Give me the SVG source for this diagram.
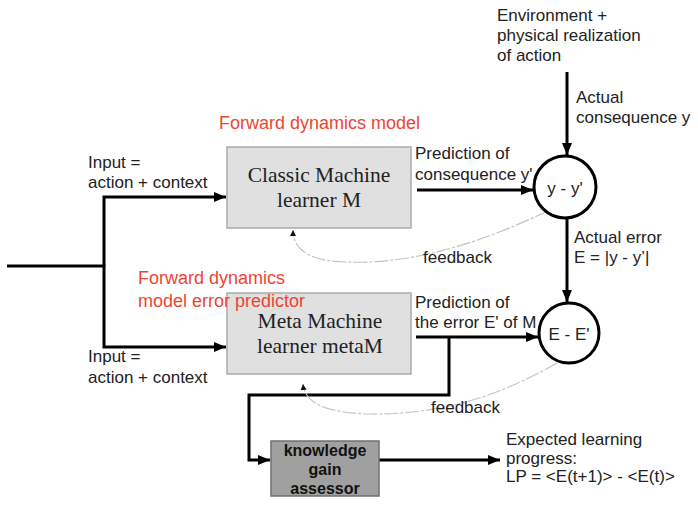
<svg xmlns="http://www.w3.org/2000/svg" width="698" height="508" viewBox="0 0 698 508">
<style>
.lbl{font-family:"Liberation Sans",Arial,sans-serif;font-size:17px;fill:#222}
.red{font-family:"Liberation Sans",Arial,sans-serif;font-size:18px;fill:#ee4433}
.ser{font-family:"Liberation Serif","Times New Roman",serif;font-size:21.5px;fill:#222;text-anchor:middle}
.bold{font-family:"Liberation Sans",Arial,sans-serif;font-size:16px;font-weight:bold;fill:#111;text-anchor:middle}
.ctr{font-family:"Liberation Sans",Arial,sans-serif;font-size:17px;fill:#222;text-anchor:middle}
.wire{fill:none;stroke:#000;stroke-width:3;stroke-linejoin:miter}
.fb{fill:none;stroke:#c4c4c4;stroke-width:1.2;stroke-dasharray:14 2 3 2}
.box{fill:#e0e0e0;stroke:#aaaaaa;stroke-width:1.5}
.kbox{fill:#a0a0a0;stroke:#707070;stroke-width:1.5}
.circ{fill:#fff;stroke:#000;stroke-width:3}
</style>
<defs>
<marker id="ah" markerUnits="userSpaceOnUse" markerWidth="12" markerHeight="10" refX="12" refY="5" orient="auto">
<path d="M0,0 L12,5 L0,10 z" fill="#000"/>
</marker>
<marker id="fah" markerUnits="userSpaceOnUse" markerWidth="6" markerHeight="6" refX="6" refY="3" orient="auto">
<path d="M0,0 L6,3 L0,6 z" fill="#111"/>
</marker>
</defs>

<g id="connectors">
<path class="wire" d="M104,266 V197 H226" marker-end="url(#ah)"/>
<path class="wire" d="M7,266 H104 V347 H226" marker-end="url(#ah)"/>
<path class="wire" d="M417,190 H533" marker-end="url(#ah)"/>
<path class="wire" d="M567,72 V155" marker-end="url(#ah)"/>
<path class="wire" d="M567,218 V302" marker-end="url(#ah)"/>
<path class="wire" d="M416,337 H538" marker-end="url(#ah)"/>
<path class="wire" d="M449,337 V395 H249 V460 H270" marker-end="url(#ah)"/>
<path class="wire" d="M379,460 H500" marker-end="url(#ah)"/>
<path class="fb" d="M548,211 C490,238 420,265 345,262 C310,261 293,250 293,230" marker-end="url(#fah)"/>
<path class="fb" d="M557,363 C510,390 450,415 370,414 C330,413 305,405 303,384" marker-end="url(#fah)"/>
</g>

<g id="M">
<rect class="box" x="227" y="147" width="184" height="81"/>
<text class="ser" x="319" y="182">Classic Machine</text>
<text class="ser" x="319" y="207">learner M</text>
</g>

<g id="metaM">
<rect class="box" x="227" y="293" width="184" height="81"/>
<text class="ser" x="320" y="328">Meta Machine</text>
<text class="ser" x="320" y="353">learner metaM</text>
</g>

<g id="kga">
<rect class="kbox" x="271" y="441" width="108" height="55"/>
<text class="bold" x="325" y="456">knowledge</text>
<text class="bold" x="325" y="475">gain</text>
<text class="bold" x="325" y="494">assessor</text>
</g>

<g id="diff1">
<circle class="circ" cx="565" cy="187" r="31"/>
<text class="ctr" x="565" y="194">y - y'</text>
</g>

<g id="diff2">
<circle class="circ" cx="569" cy="333" r="30"/>
<text class="ctr" x="569" y="340">E - E'</text>
</g>

<g id="labels">
<text class="red" x="219" y="129">Forward dynamics model</text>
<text class="red" x="138" y="284">Forward dynamics</text>
<text class="red" x="138" y="307">model error predictor</text>

<text class="lbl" x="497" y="21">Environment +</text>
<text class="lbl" x="497" y="41">physical realization</text>
<text class="lbl" x="497" y="61">of action</text>

<text class="lbl" x="576" y="103">Actual</text>
<text class="lbl" x="576" y="123">consequence y</text>

<text class="lbl" x="88" y="168">Input =</text>
<text class="lbl" x="88" y="188">action + context</text>

<text class="lbl" x="415" y="159">Prediction of</text>
<text class="lbl" x="415" y="180">consequence y'</text>

<text class="lbl" x="423" y="263">feedback</text>

<text class="lbl" x="574" y="243">Actual error</text>
<text class="lbl" x="574" y="263">E = |y - y’|</text>

<text class="lbl" x="415" y="308">Prediction of</text>
<text class="lbl" x="415" y="328">the error E' of M</text>

<text class="lbl" x="88" y="362">Input =</text>
<text class="lbl" x="88" y="383">action + context</text>

<text class="lbl" x="431" y="413">feedback</text>

<text class="lbl" x="506" y="445">Expected learning</text>
<text class="lbl" x="506" y="464">progress:</text>
<text class="lbl" x="506" y="482">LP = &lt;E(t+1)&gt; - &lt;E(t)&gt;</text>
</g>
</svg>
